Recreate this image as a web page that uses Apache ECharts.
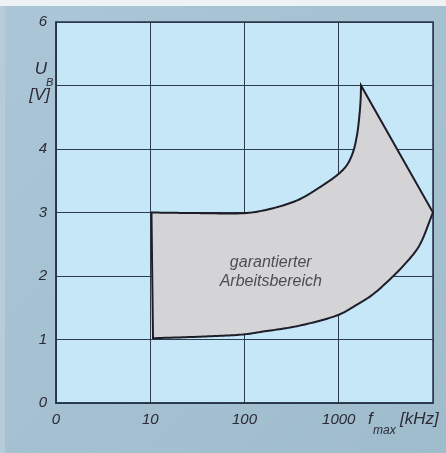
<!DOCTYPE html>
<html>
<head>
<meta charset="utf-8">
<style>
  html, body { margin: 0; padding: 0; background: #eef2f4; }
  #chart { width: 446px; height: 453px; }
</style>
<script src="https://cdn.jsdelivr.net/npm/echarts@6/dist/echarts.min.js"></script>
</head>
<body>
<div id="chart"></div>
<script>
// Frequency ticks (kHz, log scale) and their printed labels
const freqTicks = [1, 10, 100, 1000, 10000];
const freqTickLabels = ['0', '10', '100', '1000', ''];
// Voltage ticks (V); the 5 V slot carries the axis name instead of a number
const voltTicks = [0, 1, 2, 3, 4, 5, 6];
const voltTickLabels = ['0', '1', '2', '3', '4', '', '6'];

// Upper boundary of the guaranteed operating area: from the left corner up to the peak
const upperF = [10.3, 35, 100, 157, 361, 632, 1000, 1224, 1417, 1562, 1660, 1709, 1722];
const upperU = [3.0, 2.99, 2.99, 3.03, 3.19, 3.40, 3.61, 3.75, 3.95, 4.22, 4.54, 4.80, 5.0];
// Lower boundary: from the right corner back to the bottom-left corner
const lowerF = [10000, 7100, 5045, 3500, 2254, 1487, 1000, 361, 157, 98, 34, 10.7];
const lowerU = [3.0, 2.47, 2.19, 1.95, 1.70, 1.53, 1.39, 1.21, 1.125, 1.08, 1.045, 1.02];

// Area caption and where it sits
const areaLabel = ['garantierter', 'Arbeitsbereich'];
const areaLabelAt = [190, 2.06];

const FONT = '"Liberation Sans", Arial, sans-serif';
const INK = '#2b2b36';

// Centripetal Catmull-Rom through pixel points, for a smooth outline
function smoothChain(pts, steps) {
  const n = pts.length;
  const P = [[2 * pts[0][0] - pts[1][0], 2 * pts[0][1] - pts[1][1]]]
    .concat(pts)
    .concat([[2 * pts[n - 1][0] - pts[n - 2][0], 2 * pts[n - 1][1] - pts[n - 2][1]]]);
  const knot = (a, b) => Math.pow(Math.hypot(b[0] - a[0], b[1] - a[1]), 0.5) || 1e-6;
  const lerp = (a, b, ta, tb, t) => {
    const w = (t - ta) / (tb - ta);
    return [a[0] + (b[0] - a[0]) * w, a[1] + (b[1] - a[1]) * w];
  };
  const out = [];
  for (let i = 1; i < P.length - 2; i++) {
    const p0 = P[i - 1], p1 = P[i], p2 = P[i + 1], p3 = P[i + 2];
    const t0 = 0, t1 = t0 + knot(p0, p1), t2 = t1 + knot(p1, p2), t3 = t2 + knot(p2, p3);
    for (let s = 0; s < steps; s++) {
      const t = t1 + (t2 - t1) * s / steps;
      const a1 = lerp(p0, p1, t0, t1, t), a2 = lerp(p1, p2, t1, t2, t), a3 = lerp(p2, p3, t2, t3, t);
      const b1 = lerp(a1, a2, t0, t2, t), b2 = lerp(a2, a3, t1, t3, t);
      out.push(lerp(b1, b2, t1, t2, t));
    }
  }
  out.push(pts[n - 1]);
  return out;
}

const chart = echarts.init(document.getElementById('chart'), null, { renderer: 'canvas' });

const nameText = (text, pos, size, align) => ({
  type: 'text', x: pos[0], y: pos[1], z: 10,
  style: {
    text: text, fontFamily: FONT, fontStyle: 'italic', fontSize: size,
    fill: INK, align: align || 'left', verticalAlign: 'top'
  }
});

const option = {
  backgroundColor: 'transparent',
  animation: false,
  graphic: [
    { type: 'rect', left: 0, top: 0, shape: { width: 446, height: 453 }, style: { fill: '#eef2f4' }, z: -10 },
    { type: 'rect', left: 0, top: 6, shape: { width: 446, height: 447 }, style: { fill: '#b6ccd8' }, z: -10 },
    {
      type: 'rect', left: 5, top: 6, shape: { width: 441, height: 447 }, z: -10,
      style: {
        fill: new echarts.graphic.LinearGradient(0, 0, 1, 1, [
          { offset: 0, color: '#abc6d6' },
          { offset: 1, color: '#9fbccd' }
        ])
      }
    },
    // x axis name: f_max [kHz]
    nameText('f', [368, 411], 17),
    nameText('max', [373, 425], 12),
    nameText('[kHz]', [400, 411], 17),
    // y axis name: U_B [V]
    nameText('U', [47, 61], 17, 'right'),
    nameText('B', [46, 77], 11),
    nameText('[V]', [50, 87], 17, 'right')
  ],
  grid: {
    left: 56, top: 22, right: 13, bottom: 50,
    show: true,
    backgroundColor: '#c6e7f8',
    borderColor: '#263545',
    borderWidth: 1.5
  },
  xAxis: {
    type: 'log',
    logBase: 10,
    min: freqTicks[0],
    max: freqTicks[freqTicks.length - 1],
    axisLine: { show: true, lineStyle: { color: '#263545', width: 1.5 } },
    axisTick: { show: false },
    splitLine: { show: true, lineStyle: { color: '#2c3c4c', width: 1 } },
    axisLabel: {
      margin: 9,
      fontFamily: FONT, fontStyle: 'italic', fontSize: 15, color: INK,
      showMaxLabel: true,
      formatter: function (v) {
        const i = freqTicks.findIndex(t => Math.abs(Math.log10(t) - Math.log10(v)) < 1e-6);
        return i >= 0 ? freqTickLabels[i] : '';
      }
    }
  },
  yAxis: {
    type: 'value',
    min: voltTicks[0],
    max: voltTicks[voltTicks.length - 1],
    interval: 1,
    axisLine: { show: true, lineStyle: { color: '#263545', width: 1.5 } },
    axisTick: { show: false },
    splitLine: { show: true, lineStyle: { color: '#2c3c4c', width: 1 } },
    axisLabel: {
      margin: 9,
      fontFamily: FONT, fontStyle: 'italic', fontSize: 15, color: INK,
      formatter: function (v) {
        const i = voltTicks.indexOf(Math.round(v));
        return i >= 0 ? voltTickLabels[i] : '';
      }
    }
  },
  series: [
    {
      type: 'custom',
      coordinateSystem: 'cartesian2d',
      data: [[upperF[0], upperU[0]]],
      z: 5,
      renderItem: function (params, api) {
        const up = upperF.map((f, i) => api.coord([f, upperU[i]]));
        const lo = lowerF.map((f, i) => api.coord([f, lowerU[i]]));
        const pts = smoothChain(up, 16).concat(smoothChain(lo, 16));
        return {
          type: 'polygon',
          shape: { points: pts },
          style: { fill: '#d4d4d6', stroke: '#1d1d28', lineWidth: 2, lineJoin: 'miter' }
        };
      }
    },
    {
      type: 'scatter',
      data: [areaLabelAt],
      symbolSize: 0,
      z: 6,
      silent: true,
      label: {
        show: true,
        position: 'inside',
        formatter: areaLabel.join('\n'),
        fontFamily: FONT, fontStyle: 'italic', fontSize: 16, color: '#2a2a30',
        lineHeight: 19, align: 'center'
      }
    }
  ]
};

chart.setOption(option);
</script>
</body>
</html>
